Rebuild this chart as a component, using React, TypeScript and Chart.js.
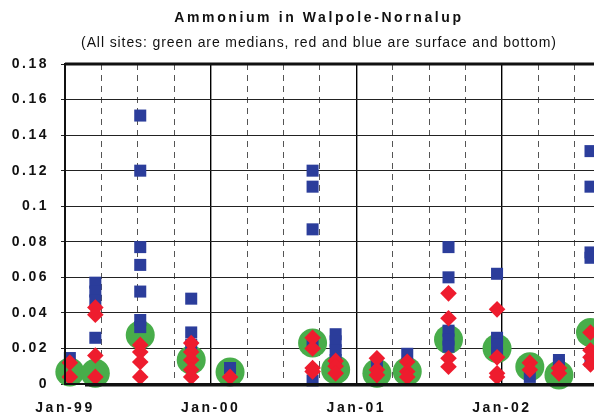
import { useEffect, useRef } from 'react';
import { Chart, registerables } from 'chart.js';

Chart.register(...registerables);

// Sampling dates, in months after 1 Jan 1999
const surveyMonths = [0.4, 2.5, 6.2, 10.4, 13.6, 20.4, 22.3, 25.7, 28.2, 31.6, 35.6, 38.3, 40.7, 43.3];

// Green: medians of all sites
const medianValues = [0.0067, 0.006, 0.0275, 0.0135, 0.0067, 0.023, 0.008, 0.006, 0.007, 0.025, 0.02, 0.0097, 0.005, 0.029];

// Red: surface samples
const surfaceValues = [
  [0.012, 0.004],
  [0.043, 0.039, 0.016, 0.004],
  [0.022, 0.018, 0.0124, 0.004],
  [0.023, 0.018, 0.0135, 0.008, 0.004],
  [0.004],
  [0.026, 0.02, 0.009, 0.007],
  [0.013, 0.01, 0.006],
  [0.0145, 0.008, 0.005],
  [0.0125, 0.007, 0.004],
  [0.051, 0.037, 0.0145, 0.0097],
  [0.042, 0.015, 0.006, 0.004],
  [0.012, 0.008],
  [0.009, 0.006],
  [0.029, 0.019, 0.015, 0.011],
];

// Blue: bottom samples
const bottomValues = [
  [0.0146],
  [0.057, 0.052, 0.047, 0.026],
  [0.151, 0.12, 0.077, 0.067, 0.052, 0.036, 0.032],
  [0.048, 0.029, 0.022],
  [0.009],
  [0.12, 0.111, 0.087, 0.022, 0.002],
  [0.028, 0.024, 0.019, 0.0135],
  [0.01],
  [0.017],
  [0.077, 0.06, 0.03, 0.025, 0.021],
  [0.062, 0.026, 0.022, 0.017],
  [0.004],
  [0.0135, 0.011],
  [0.131, 0.111, 0.074, 0.071, 0.013],
];

const xTickMonths = [0, 12, 24, 36];
const xTickLabels = ['Jan-99', 'Jan-00', 'Jan-01', 'Jan-02'];
const yTickLabels = ['0', '0.02', '0.04', '0.06', '0.08', '0.1', '0.12', '0.14', '0.16', '0.18'];

const titleText = 'Ammonium in Walpole-Nornalup';
const subtitleText = '(All sites: green are medians, red and blue are surface and bottom)';

function toPoints(groups: number[][]) {
  const pts: { x: number; y: number }[] = [];
  groups.forEach((vals, i) => vals.forEach((v) => pts.push({ x: surveyMonths[i], y: v })));
  return pts;
}

const spacingPlugin = {
  id: 'spacing',
  beforeUpdate(chart: any) {
    chart.ctx.letterSpacing = '2.5px';
  },
  beforeDraw(chart: any) {
    chart.ctx.letterSpacing = '2.5px';
  },
  afterDraw(chart: any) {
    const { ctx, chartArea } = chart;
    ctx.save();
    // plot frame
    ctx.strokeStyle = '#111';
    ctx.lineWidth = 2;
    ctx.strokeRect(chartArea.left, chartArea.top, chartArea.right - chartArea.left, chartArea.bottom - chartArea.top);
    ctx.lineWidth = 3;
    ctx.beginPath();
    ctx.moveTo(chartArea.left, chartArea.top);
    ctx.lineTo(chartArea.right, chartArea.top);
    ctx.moveTo(chartArea.left + 20, chartArea.bottom + 1);
    ctx.lineTo(chartArea.right, chartArea.bottom + 1);
    ctx.stroke();
    // titles
    const cx = 311;
    ctx.fillStyle = '#111';
    ctx.textAlign = 'center';
    ctx.textBaseline = 'alphabetic';
    ctx.font = 'bold 14px "Liberation Sans", Arial, sans-serif';
    ctx.letterSpacing = '2.6px';
    ctx.fillText(titleText, cx, 14);
    ctx.font = '14px "Liberation Sans", Arial, sans-serif';
    ctx.letterSpacing = '0.9px';
    ctx.fillText(subtitleText, cx, 39);
    ctx.restore();
  },
};

export default function App() {
  const ref = useRef<HTMLCanvasElement | null>(null);
  useEffect(() => {
    if (!ref.current) return;
    const tickFont = { family: '"Liberation Sans", Arial, sans-serif', size: 14, weight: 'bold' as const };
    const chart = new Chart(ref.current, {
      type: 'scatter',
      data: {
        datasets: [
          {
            label: 'Surface',
            data: toPoints(surfaceValues),
            pointStyle: 'rectRot',
            pointRadius: 8.3,
            backgroundColor: '#ee1c2e',
            borderColor: '#ee1c2e',
            borderWidth: 0,
            clip: false as any,
          },
          {
            label: 'Bottom',
            data: toPoints(bottomValues),
            pointStyle: 'rect',
            pointRadius: 8.5,
            backgroundColor: '#2b3d9b',
            borderColor: '#2b3d9b',
            borderWidth: 0,
            clip: false as any,
          },
          {
            label: 'Median',
            data: medianValues.map((v, i) => ({ x: surveyMonths[i], y: v })),
            pointStyle: 'circle',
            pointRadius: 14.5,
            backgroundColor: '#48ad4a',
            borderColor: '#48ad4a',
            borderWidth: 0,
            clip: false as any,
          },
        ],
      },
      options: {
        animation: false,
        responsive: false,
        layout: { autoPadding: false, padding: { top: 56, right: 3, left: 0, bottom: 0 } },
        plugins: { legend: { display: false }, tooltip: { enabled: false }, title: { display: false } },
        scales: {
          x: {
            type: 'linear',
            min: 0,
            max: 44,
            afterBuildTicks: (s: any) => {
              s.ticks = xTickMonths.map((v) => ({ value: v }));
            },
            ticks: {
              callback: (v: any) => {
                const i = xTickMonths.indexOf(Number(v));
                return i >= 0 ? xTickLabels[i] : '';
              },
              font: tickFont,
              color: '#111',
              padding: 16,
              maxRotation: 0,
              autoSkip: false,
            },
            grid: { color: '#000', lineWidth: 1.4, drawTicks: false },
            border: { display: false },
            afterFit: (s: any) => {
              s.height = 33;
            },
          },
          x2: {
            type: 'linear',
            position: 'bottom',
            min: 0,
            max: 44,
            ticks: { display: false, stepSize: 3, includeBounds: false },
            grid: {
              color: (c: any) => (c.tick && c.tick.value % 12 === 0 ? 'rgba(0,0,0,0)' : '#555'),
              lineWidth: 1,
              drawTicks: false,
            },
            border: { display: false, dash: [6, 5] },
            afterFit: (s: any) => {
              s.height = 0;
            },
          },
          y: {
            min: 0,
            max: 0.18,
            ticks: {
              stepSize: 0.02,
              callback: (_v: any, i: number) => yTickLabels[i],
              font: tickFont,
              color: '#111',
              padding: 12,
            },
            grid: { color: '#222', lineWidth: 1, tickLength: 4, tickColor: '#222' },
            border: { display: false },
            afterFit: (s: any) => {
              s.width = 57;
            },
          },
        },
      },
      plugins: [spacingPlugin],
    });
    return () => chart.destroy();
  }, []);
  return (
    <canvas
      ref={ref}
      width={594}
      height={409}
      style={{ display: 'block', width: 594, height: 409 }}
    />
  );
}
